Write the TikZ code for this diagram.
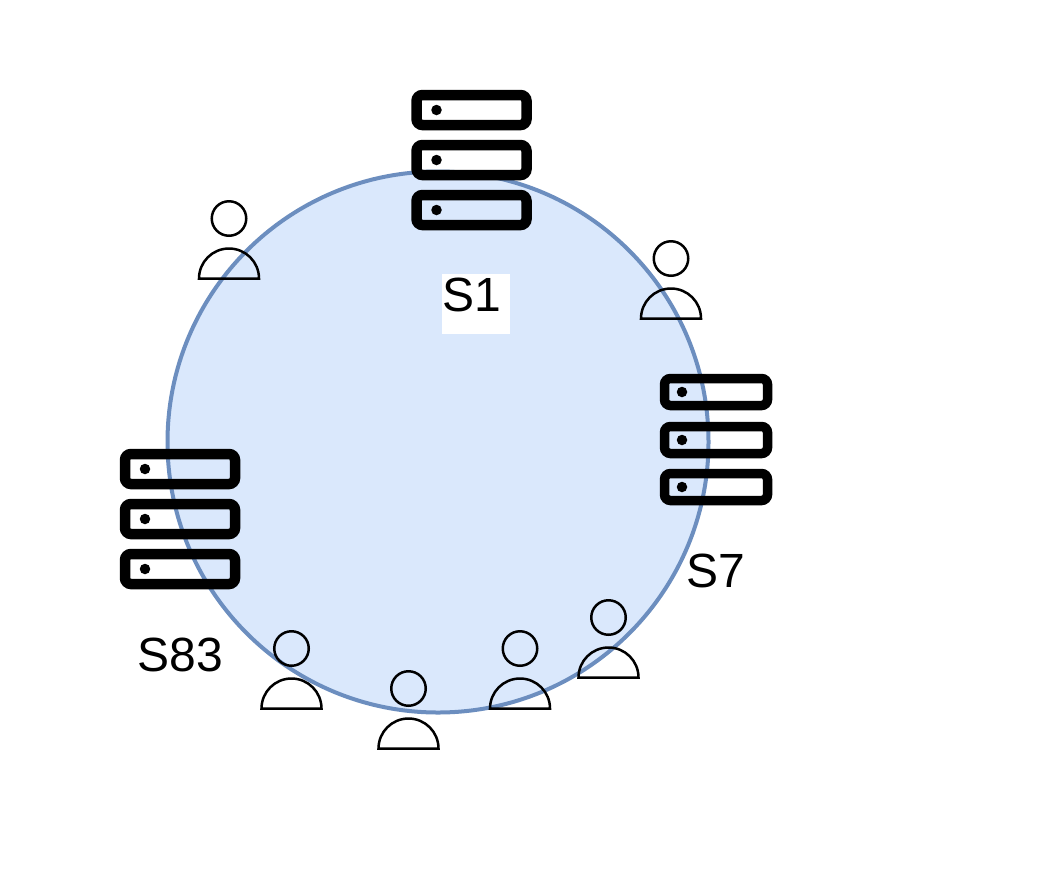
\documentclass[tikz,border=0pt]{standalone}
\usepackage{fontspec}
\setmainfont{Liberation Sans}
\usetikzlibrary{positioning}
\definecolor{ringfill}{HTML}{DAE8FC}
\definecolor{ringline}{HTML}{6C8EBF}

\begin{document}
\begin{tikzpicture}[x=1pt, y=-1pt,
    ring/.style={circle, draw=ringline, fill=ringfill, line width=4pt, minimum size=541pt, inner sep=0pt},
    slot/.style={draw=black, rectangle, rounded corners=6pt, line width=10.5pt, inner sep=0pt, minimum width=110pt, minimum height=30pt},
    slotsmall/.style={slot, line width=9.5pt, minimum width=103pt, minimum height=27pt},
    led/.style={circle, fill=black, inner sep=0pt, minimum size=10.5pt},
    head/.style={circle, draw=black, line width=2.5pt, inner sep=0pt, minimum size=34.5pt},
    body/.style={draw=black, line width=2.5pt, line join=miter},
    label/.style={font=\fontsize{48}{56}\selectfont, inner sep=0pt}]

  \useasboundingbox (0,0) rectangle (1064,884);

  \node[ring] (ring) at (438,442) {};

  % rack S1
  \node[slot] (s1a) at (471.5,110) {};
  \node[slot] (s1b) at (471.5,160) {};
  \node[slot] (s1c) at (471.5,210) {};
  \node[led] (s1adot) at (436.5,110) {};
  \node[led] (s1bdot) at (436.5,160) {};
  \node[led] (s1cdot) at (436.5,210) {};

  % rack S7
  \node[slotsmall] (s7a) at (716,392) {};
  \node[slotsmall] (s7b) at (716,440) {};
  \node[slotsmall] (s7c) at (716,487) {};
  \node[led] (s7adot) at (682,392) {};
  \node[led] (s7bdot) at (682,440) {};
  \node[led] (s7cdot) at (682,487) {};

  % rack S83
  \node[slot] (s83a) at (180,469) {};
  \node[slot] (s83b) at (180,519) {};
  \node[slot] (s83c) at (180,569) {};
  \node[led] (s83adot) at (145,469) {};
  \node[led] (s83bdot) at (145,519) {};
  \node[led] (s83cdot) at (145,569) {};

  % users
  \foreach \name/\px/\py in {u1/229/278.5, u2/671/318.5, u3/608.5/677.5, u4/520/708.5, u5/408.5/748.5, u6/291.5/708.5} {
    \node[head] (\name) at (\px,\py-60) {};
    \draw[body] (\px-30,\py) arc[start angle=180, end angle=0, x radius=30pt, y radius=30pt] -- cycle;
  }

  \node[fill=white, minimum width=68pt, minimum height=60pt, inner sep=0pt] (s1box) at (476,303.5) {};
  \node[label, anchor=west] (s1) at (442,295) {S1};
  \node[label] (s7) at (716,571) {S7};
  \node[label] (s83) at (180,655) {S83};

\end{tikzpicture}
\end{document}
